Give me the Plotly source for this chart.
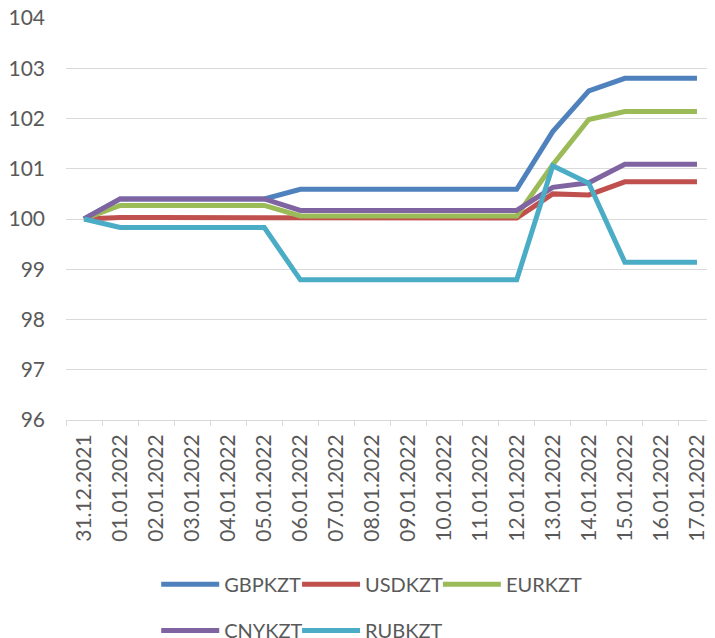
import plotly.graph_objects as go

dates = ["31.12.2021", "01.01.2022", "02.01.2022", "03.01.2022", "04.01.2022", "05.01.2022",
         "06.01.2022", "07.01.2022", "08.01.2022", "09.01.2022", "10.01.2022", "11.01.2022",
         "12.01.2022", "13.01.2022", "14.01.2022", "15.01.2022", "16.01.2022", "17.01.2022"]

gbp = [100, 100.40, 100.40, 100.40, 100.40, 100.40, 100.59, 100.59, 100.59, 100.59, 100.59, 100.59,
       100.59, 101.74, 102.55, 102.80, 102.80, 102.80]
usd = [100, 100.03, 100.03, 100.03, 100.03, 100.03, 100.02, 100.02, 100.02, 100.02, 100.02, 100.02,
       100.02, 100.50, 100.48, 100.74, 100.74, 100.74]
eur = [100, 100.27, 100.27, 100.27, 100.27, 100.27, 100.06, 100.06, 100.06, 100.06, 100.06, 100.06,
       100.06, 101.08, 101.98, 102.14, 102.14, 102.14]
cny = [100, 100.40, 100.40, 100.40, 100.40, 100.40, 100.17, 100.17, 100.17, 100.17, 100.17, 100.17,
       100.17, 100.63, 100.72, 101.09, 101.09, 101.09]
rub = [100, 99.83, 99.83, 99.83, 99.83, 99.83, 98.79, 98.79, 98.79, 98.79, 98.79, 98.79,
       98.79, 101.06, 100.71, 99.14, 99.14, 99.14]

series_names = ["GBPKZT", "USDKZT", "EURKZT", "CNYKZT", "RUBKZT"]
series_values = [gbp, usd, eur, cny, rub]
series_colors = ["#4F81BD", "#C0504D", "#9BBB59", "#8064A2", "#4BACC6"]

# legend slot of each series: (x in plot fraction, y in plot fraction)
legend_slots = [(0.139, -0.36), (0.356, -0.36), (0.573, -0.36),
                (0.139, -0.475), (0.356, -0.475)]

fam = "Lato, 'Open Sans', sans-serif"
grey = "#595959"

fig = go.Figure()
legend_layout = {}
for i, (name, vals, color) in enumerate(zip(series_names, series_values, series_colors)):
    key = "legend" if i == 0 else f"legend{i + 1}"
    fig.add_trace(go.Scatter(x=dates, y=vals, name=name, mode="lines",
                             line=dict(color=color, width=5), legend=key))
    lx, ly = legend_slots[i]
    legend_layout[key] = dict(orientation="h", x=lx, y=ly, xanchor="left", yanchor="top",
                              font=dict(family=fam, size=20, color=grey), itemwidth=58,
                              bgcolor="rgba(0,0,0,0)")

# page body has an 8px margin, so the figure is 8px smaller than the window
fig.update_layout(
    width=707, height=630,
    margin=dict(l=58, r=0, t=10, b=218, autoexpand=False),
    paper_bgcolor="white", plot_bgcolor="white",
    font=dict(family=fam, size=20, color=grey),
    showlegend=True,
    xaxis=dict(type="category", range=[-0.5, 17.5], tickangle=-90, showgrid=False,
               showline=True, linecolor="#D9D9D9", linewidth=1,
               ticks="outside", tickson="boundaries", ticklen=5, tickcolor="#D9D9D9",
               ticklabelstandoff=5,
               tickfont=dict(family=fam, size=21, color=grey)),
    yaxis=dict(range=[96, 104], dtick=1, showgrid=True, gridcolor="#D9D9D9", gridwidth=1,
               zeroline=False, showline=False, ticklabelstandoff=20,
               ticklabeloverflow="allow",
               tickfont=dict(family=fam, size=21, color=grey)),
    **legend_layout,
)

fig.write_html("out.html")
